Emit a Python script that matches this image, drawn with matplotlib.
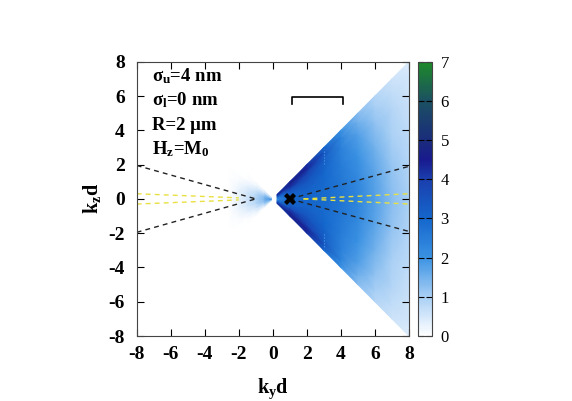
import numpy as np
import matplotlib
matplotlib.use("Agg")
import matplotlib.pyplot as plt
from matplotlib.colors import LinearSegmentedColormap

plt.rcParams['font.family'] = ['Liberation Serif', 'DejaVu Serif']
plt.rcParams['mathtext.fontset'] = 'custom'
plt.rcParams['mathtext.rm'] = 'Liberation Serif:bold'
plt.rcParams['mathtext.it'] = 'Liberation Serif:bold'
plt.rcParams['mathtext.bf'] = 'Liberation Serif:bold'

# right wedge: values sampled along k_y and along r = k_z / k_y (symmetric in r)
wedge_ky = [0.25, 1, 2, 3, 4, 5, 6, 7, 8]
wedge_r = [0, 0.25, 0.5, 0.75, 0.9, 1.0]
wedge_vals = [
    [2.2, 2.5, 3.0, 3.8, 4.2, 3.5],
    [3.0, 3.1, 3.5, 4.3, 4.7, 4.3],
    [3.0, 3.1, 3.4, 3.9, 4.4, 4.2],
    [2.9, 2.9, 3.0, 3.2, 3.4, 3.0],
    [2.7, 2.6, 2.5, 2.4, 2.3, 2.0],
    [2.3, 2.2, 2.0, 1.8, 1.5, 1.3],
    [1.8, 1.7, 1.5, 1.2, 1.0, 0.85],
    [1.3, 1.2, 1.0, 0.85, 0.7, 0.6],
    [1.0, 0.9, 0.75, 0.6, 0.5, 0.4],
]

# small lens on the left side, r = k_z / |k_y|
left_ky = [-2.6, -2.0, -1.5, -1.0, -0.5, -0.1]
left_r = [0, 0.25, 0.5, 0.75, 1.0]
left_vals = [
    [0.0, 0.0, 0.0, 0.0, 0.0],
    [0.3, 0.25, 0.1, 0.0, 0.0],
    [0.6, 0.5, 0.3, 0.05, 0.0],
    [0.9, 0.8, 0.5, 0.2, 0.0],
    [1.4, 1.3, 1.0, 0.5, 0.1],
    [2.0, 1.8, 1.5, 1.0, 0.3],
]

# dashed guide lines (k_y, k_z)
black_left_ky = [-8, -1]
black_left_kz = [1.95, 0]
black_right_ky = [1, 8]
black_right_kz = [0, 1.9]
yellow_left_ky = [-8, -2]
yellow_left_kz = [0.3, 0.06]
yellow_right_ky = [1.8, 8]
yellow_right_kz = [0.0, 0.3]

# faint dotted streaks inside the wedge
streak_ky = [3.0, 3.0]
streak_kz = [2.05, 2.9]

marker_ky, marker_kz = 1.0, 0.0
bracket_ky = [1.1, 1.1, 4.1, 4.1]
bracket_kz = [5.55, 5.96, 5.96, 5.55]

ticks = [-8, -6, -4, -2, 0, 2, 4, 6, 8]
cb_ticks = [0, 1, 2, 3, 4, 5, 6, 7]
labels = [r'$\sigma_\mathrm{u}$=4 nm', r'$\sigma_\mathrm{l}$=0 nm',
          'R=2 \u03bcm', r'H$_\mathrm{z}$=M$_\mathrm{0}$']

cmap = LinearSegmentedColormap.from_list('gp', [
    (0.0, '#ffffff'), (1 / 7, '#a8cff5'), (2 / 7, '#3a92e3'),
    (3 / 7, '#1466cc'), (4 / 7, '#1a3fae'), (4.5 / 7, '#181a8e'),
    (5 / 7, '#1a2c7c'), (6 / 7, '#1b4f62'), (1.0, '#1e8a2a')])

fig = plt.figure(figsize=(5.72, 4.01), dpi=100)
ax = fig.add_axes([0.239, 0.162, 0.476, 0.684])
cax = fig.add_axes([0.731, 0.162, 0.0245, 0.684])


def mirrored_mesh(ky, r, vals):
    r = np.asarray(r)
    vals = np.asarray(vals)
    r_full = np.concatenate([-r[:0:-1], r])
    v_full = np.concatenate([vals[:, :0:-1], vals], axis=1)
    KY, R = np.meshgrid(np.asarray(ky), r_full, indexing='ij')
    return KY, R * np.abs(KY), v_full


X, Y, C = mirrored_mesh(wedge_ky, wedge_r, wedge_vals)
mesh = ax.pcolormesh(X, Y, C, shading='gouraud', cmap=cmap, vmin=0, vmax=7)
X, Y, C = mirrored_mesh(left_ky, left_r, left_vals)
ax.pcolormesh(X, Y, C, shading='gouraud', cmap=cmap, vmin=0, vmax=7)

dash = dict(lw=1.0, dashes=(3.5, 3))
for s in (1, -1):
    ax.plot(black_left_ky, s * np.array(black_left_kz), color='#222222', **dash)
    ax.plot(black_right_ky, s * np.array(black_right_kz), color='#222222', **dash)
    ax.plot(yellow_left_ky, s * np.array(yellow_left_kz), color='#e8e040', **dash)
    ax.plot(yellow_right_ky, s * np.array(yellow_right_kz), color='#e8e040', **dash)
    ax.plot(streak_ky, s * np.array(streak_kz), color='#4a9be8', lw=0.8, ls=':')

ax.plot(marker_ky, marker_kz, marker='X', color='black', markersize=9, markeredgewidth=0)
ax.plot(bracket_ky, bracket_kz, color='black', lw=1.2)

for i, t in enumerate(labels):
    ax.text(0.058, 0.93 - i * 0.0893, t, transform=ax.transAxes, fontsize=13.5,
            fontweight='bold', va='baseline', ha='left')

ax.set_xlim(-8, 8)
ax.set_ylim(-8, 8)
ax.set_xticks(ticks)
ax.set_yticks(ticks)
ax.set_xticklabels([str(t) for t in ticks], fontweight='bold', fontsize=14)
ax.set_yticklabels([str(t) for t in ticks], fontweight='bold', fontsize=14)
ax.tick_params(direction='in', top=True, right=True, length=5, width=0.8)
ax.tick_params(axis='x', pad=7)
ax.tick_params(axis='y', pad=8.5)
for sp in ax.spines.values():
    sp.set_linewidth(0.8)
    sp.set_color('#444444')
ax.set_xlabel(r'k$_\mathrm{y}$d', fontsize=14.5, fontweight='bold', labelpad=10)
ax.set_ylabel(r'k$_\mathrm{z}$d', fontsize=14.5, fontweight='bold', labelpad=4)

cb = fig.colorbar(mesh, cax=cax, ticks=cb_ticks)
cb.outline.set_linewidth(0.8)
cb.outline.set_edgecolor('#444444')
cax.tick_params(direction='in', left=True, right=True, length=4, width=0.8,
                labelsize=12, pad=6)

fig.savefig('out.png', dpi=100)
